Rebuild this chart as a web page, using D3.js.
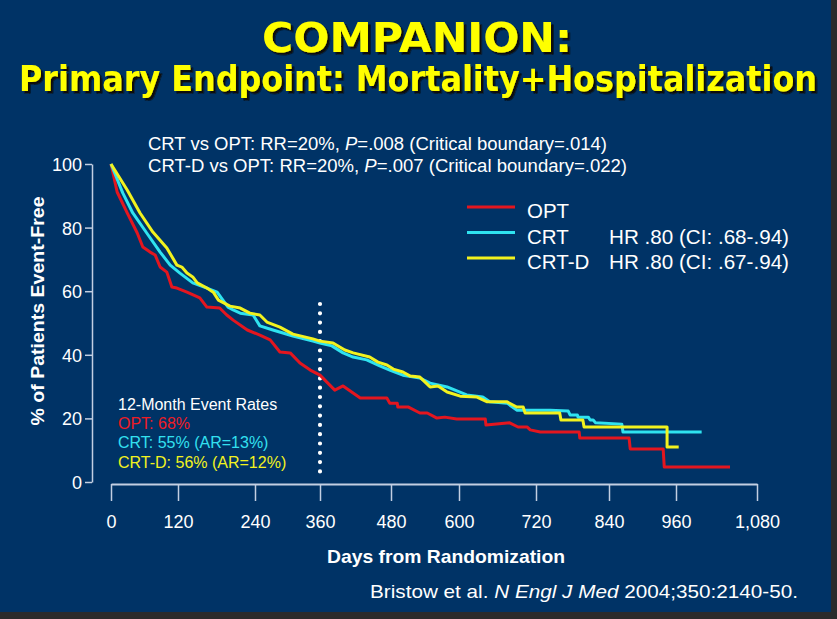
<!DOCTYPE html>
<html>
<head>
<meta charset="utf-8">
<script src="https://cdn.jsdelivr.net/npm/d3@7/dist/d3.min.js"></script>
<style>
  html, body { margin: 0; padding: 0; background: #2b2b2b; }
  svg { display: block; }
  text { font-family: "Liberation Sans", Arial, sans-serif; }
</style>
</head>
<body>
<svg id="chart" width="837" height="619"></svg>
<script>
// ---------------- DATA ----------------
const titleLine1 = "COMPANION:";
const titleLine2 = "Primary Endpoint: Mortality+Hospitalization";

const seriesNames = ["OPT", "CRT", "CRT-D"];
const seriesHR = ["", "HR .80 (CI: .68-.94)", "HR .80 (CI: .67-.94)"];

const xTicks = [0, 120, 240, 360, 480, 600, 720, 840, 960, 1080];
const yTicks = [0, 20, 40, 60, 80, 100];

const optDays = [0,11,29,47,57,70,79,88,100,109,118,134,154,165,185,196,206,228,249,268,286,305,323,342,360,385,399,428,473,478,491,492,510,531,544,561,575,596,641,642,679,692,706,711,727,791,792,876,878,937,939,1040];
const optSurv = [100,91.2,84.6,78.3,73.9,72.3,71.4,67.6,66.0,61.3,61.0,59.7,57.9,55.0,54.7,52.5,50.9,47.8,46.2,44.7,40.9,40.6,37.4,35.2,33.6,28.9,30.2,26.4,26.4,24.8,24.8,23.6,23.6,21.7,21.7,20.1,20.4,19.8,19.8,17.9,18.6,17.3,17.3,16.4,15.7,15.7,13.8,13.8,10.4,10.4,4.7,4.7];

const crtDays = [0,21,39,64,88,106,123,143,165,181,190,198,206,217,237,249,273,310,347,360,380,399,416,439,461,478,501,531,549,579,612,637,648,675,690,743,773,776,788,789,806,809,814,818,863,865,998];
const crtSurv = [100,90.9,84.6,78.3,72.3,68.2,65.7,62.6,61.0,59.7,57.2,55.0,54.1,53.1,52.5,49.1,47.8,45.9,44.3,43.7,42.8,40.6,39.3,38.4,36.5,35.2,33.6,32.7,31.1,29.9,27.4,26.7,25.2,24.8,22.6,22.6,22.3,21.1,21.1,20.4,20.4,19.5,19.5,18.6,18.2,15.7,15.7];

const crtdDays = [0,29,52,75,100,118,126,134,143,150,165,175,183,201,217,232,249,262,286,310,347,360,382,402,416,444,458,473,484,501,514,531,549,563,579,602,628,644,675,690,700,703,759,761,797,799,944,944,964];
const crtdSurv = [100,91.8,84.6,78.6,73.6,68.2,67.6,65.7,64.5,62.6,61.0,59.7,57.2,55.3,54.7,53.1,52.5,50.3,48.7,46.5,45.0,44.3,43.7,41.5,40.6,39.3,37.7,36.8,35.5,34.6,33.3,33.0,29.9,30.2,28.3,27.0,26.7,25.2,25.2,23.6,23.6,21.7,21.7,19.5,19.5,17.3,17.3,11.0,11.0];

const landmarkDay = 360;

const statLines = [
  ["CRT vs OPT: RR=20%, ", "P", "=.008 (Critical boundary=.014)"],
  ["CRT-D vs OPT: RR=20%, ", "P", "=.007 (Critical boundary=.022)"]
];
const eventRateTitle = "12-Month Event Rates";
const eventRates = ["OPT: 68%", "CRT: 55% (AR=13%)", "CRT-D: 56% (AR=12%)"];

const xLabel = "Days from Randomization";
const yLabel = "% of Patients Event-Free";
const citation = ["Bristow et al. ", "N Engl J Med", " 2004;350:2140-50."];

// ---------------- LAYOUT / STYLE ----------------
const colors = ["#e3161f", "#2fe3f0", "#f2f21e"];
const textColors = ["#ee1c25", "#33e0f0", "#f2f21e"];
const bg = "#003366";
const axisColor = "#c3cfe2";

const svg = d3.select("#chart");
const defs = svg.append("defs");
const f = defs.append("filter").attr("id", "shadow")
  .attr("x", "-5%").attr("y", "-20%").attr("width", "115%").attr("height", "150%");
f.append("feDropShadow").attr("dx", 2.5).attr("dy", 2.5).attr("stdDeviation", 0.6)
  .attr("flood-color", "#111111").attr("flood-opacity", 1);

svg.append("rect").attr("width", 837).attr("height", 619).attr("fill", "#2b2b2b");
svg.append("rect").attr("width", 831).attr("height", 612).attr("fill", bg);

// Title
function titleText(str, x, y, size, len) {
  svg.append("text")
    .attr("x", x).attr("y", y)
    .attr("text-anchor", "middle")
    .attr("textLength", len).attr("lengthAdjust", "spacingAndGlyphs")
    .attr("filter", "url(#shadow)")
    .style("font-family", "'DejaVu Sans Condensed', 'DejaVu Sans', sans-serif")
    .style("font-weight", "bold")
    .style("font-size", size + "px")
    .attr("fill", "#ffff00")
    .text(str);
}
titleText(titleLine1, 417, 52, 40, 310);
titleText(titleLine2, 418, 91, 35, 798);

// Scales (x tick positions in the original slide are unevenly spaced)
const xTickPx = [111, 178, 255, 320, 391, 459, 536, 609, 676, 757];
const x = d3.scaleLinear().domain(xTicks).range(xTickPx);
const y = d3.scaleLinear().domain([0, 100]).range([482, 164]);

// Y axis
const yAxisG = svg.append("g").attr("transform", "translate(92,0)")
  .call(d3.axisLeft(y).tickValues(yTicks).tickSize(7).tickSizeOuter(0).tickPadding(3));
yAxisG.select(".domain").attr("stroke", axisColor).attr("stroke-width", 1.5);
yAxisG.selectAll(".tick line").attr("stroke", axisColor).attr("stroke-width", 1.5);
yAxisG.selectAll(".tick text").attr("fill", "#ffffff").attr("dy", "0.36em")
  .style("font-size", "18px").style("font-family", "'Liberation Sans', Arial, sans-serif");

// X axis
const xAxisG = svg.append("g").attr("transform", "translate(0,484)")
  .call(d3.axisBottom(x).tickValues(xTicks).tickFormat(d3.format(",")).tickSize(17).tickSizeOuter(0));
xAxisG.select(".domain").attr("stroke", axisColor).attr("stroke-width", 2);
xAxisG.selectAll(".tick line").attr("stroke", axisColor).attr("stroke-width", 1.5);
xAxisG.selectAll(".tick text").attr("fill", "#ffffff")
  .attr("y", 44).attr("dy", 0)
  .style("font-size", "18px").style("font-family", "'Liberation Sans', Arial, sans-serif");

// Axis labels
svg.append("text").attr("x", 446).attr("y", 563).attr("text-anchor", "middle")
  .attr("fill", "#fff").style("font-size", "19px").style("font-weight", "bold")
  .attr("textLength", 238).attr("lengthAdjust", "spacingAndGlyphs")
  .text(xLabel);
svg.append("text").attr("transform", "translate(44,311) rotate(-90)").attr("text-anchor", "middle")
  .attr("fill", "#fff").style("font-size", "19px").style("font-weight", "bold")
  .attr("textLength", 229).attr("lengthAdjust", "spacingAndGlyphs")
  .text(yLabel);

// Landmark dotted line
svg.append("line")
  .attr("x1", x(landmarkDay)).attr("x2", x(landmarkDay))
  .attr("y1", 304).attr("y2", 480)
  .attr("stroke", "#ffffff").attr("stroke-width", 4.2)
  .attr("stroke-linecap", "round").attr("stroke-dasharray", "0 9.3");

// Curves
const line = d3.line().x(d => x(d[0])).y(d => y(d[1]));
const series = [
  d3.zip(optDays, optSurv),
  d3.zip(crtDays, crtSurv),
  d3.zip(crtdDays, crtdSurv)
];
series.forEach((s, i) => {
  svg.append("path").datum(s).attr("d", line)
    .attr("fill", "none").attr("stroke", colors[i]).attr("stroke-width", 3)
    .attr("stroke-linejoin", "round");
});

// Stats text
const statLens = [459, 479];
statLines.forEach((parts, i) => {
  const t = svg.append("text").attr("x", 148).attr("y", 150 + i * 22)
    .attr("fill", "#fff").style("font-size", "17.5px")
    .attr("textLength", statLens[i]).attr("lengthAdjust", "spacingAndGlyphs");
  t.append("tspan").text(parts[0]);
  t.append("tspan").style("font-style", "italic").text(parts[1]);
  t.append("tspan").text(parts[2]);
});

// Legend
seriesNames.forEach((n, i) => {
  const ly = 207 + i * 25.5;
  svg.append("line").attr("x1", 467).attr("x2", 515).attr("y1", ly).attr("y2", ly)
    .attr("stroke", colors[i]).attr("stroke-width", 3);
  svg.append("text").attr("x", 527).attr("y", ly + 11).attr("fill", "#fff")
    .style("font-size", "20.5px").text(n);
  if (seriesHR[i]) {
    svg.append("text").attr("x", 609).attr("y", ly + 11).attr("fill", "#fff")
      .style("font-size", "20.5px")
      .attr("textLength", 180).attr("lengthAdjust", "spacingAndGlyphs")
      .text(seriesHR[i]);
  }
});

// Event rates box
svg.append("text").attr("x", 118).attr("y", 410).attr("fill", "#fff")
  .style("font-size", "16px").text(eventRateTitle);
eventRates.forEach((t, i) => {
  svg.append("text").attr("x", 118).attr("y", 429 + i * 19.3).attr("fill", textColors[i])
    .style("font-size", "16px").text(t);
});

// Citation
const cit = svg.append("text").attr("x", 798).attr("y", 598).attr("text-anchor", "end")
  .attr("fill", "#fff").style("font-size", "19px")
  .attr("textLength", 428).attr("lengthAdjust", "spacingAndGlyphs");
cit.append("tspan").text(citation[0]);
cit.append("tspan").style("font-style", "italic").text(citation[1]);
cit.append("tspan").text(citation[2]);
</script>
</body>
</html>
